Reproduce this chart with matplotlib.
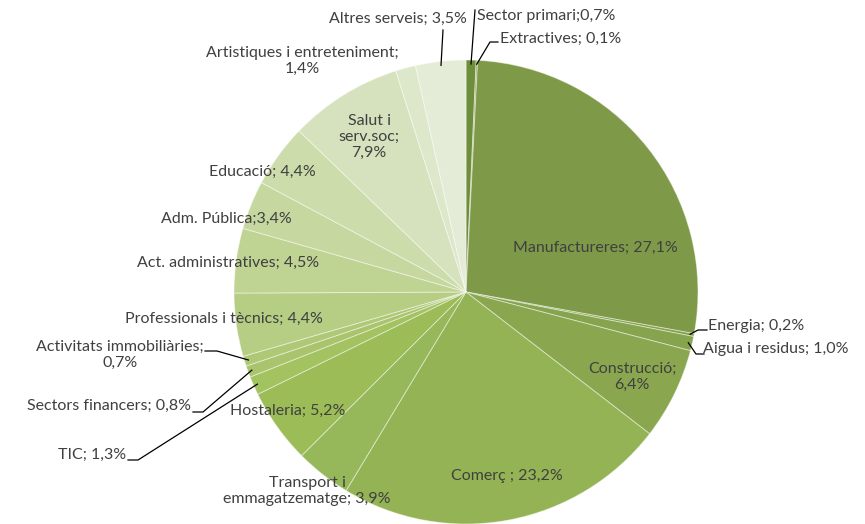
import numpy as np
import matplotlib
matplotlib.use('Agg')
import matplotlib.pyplot as plt

# sector shares (%), clockwise from 12 o'clock
sectors = ['Sector primari', 'Extractives', 'Manufactureres', 'Energia',
           'Aigua i residus', 'Construcció', 'Comerç ', 'Transport i\nemmagatzematge',
           'Hostaleria', 'TIC', 'Sectors financers', 'Activitats immobiliàries',
           'Professionals i tècnics', 'Act. administratives', 'Adm. Pública',
           'Educació', 'Salut i\nserv.soc', 'Artistiques i entreteniment',
           'Altres serveis']
shares = [0.7, 0.1, 27.1, 0.2, 1.0, 6.4, 23.2, 3.9, 5.2, 1.3, 0.8, 0.7,
          4.4, 4.5, 3.4, 4.4, 7.9, 1.4, 3.5]
separators = [';', '; ', '; ', '; ', '; ', ';\n', '; ', '; ', '; ', '; ', '; ',
              ';\n', '; ', '; ', ';', '; ', ';\n', ';\n', '; ']
colors = ['#6f8e3b', '#87a54f', '#7e9a48', '#84a14c', '#86a34e', '#8aa750',
          '#93b355', '#97b85a', '#9bbc57', '#a3c260', '#a9c46c', '#afc876',
          '#b6cd84', '#bfd393', '#c6d89f', '#cddcab', '#d6e2bd', '#dde7c9',
          '#e4ecd7']

W, H = 865, 524
CX, CY, R = 466, 292, 232  # pixel coords (y down)

# label placement in pixels: (x, y, ha)
label_pos = [(477, 16, 'left'), (500, 39, 'left'), (595, 248, 'center'),
             (708, 326, 'left'), (703, 349, 'left'), (632, 377, 'center'),
             (507, 476, 'center'), (307, 491, 'center'), (288, 411, 'center'),
             (126, 455, 'right'), (191, 406, 'right'), (120, 355, 'center'),
             (224, 319, 'center'), (228, 263, 'center'), (226, 219, 'center'),
             (262, 172, 'center'), (369, 137, 'center'), (302, 61, 'center'),
             (398, 19, 'center')]
# leader line bends (pixels) for outside labels
leaders = {0: [(475, 10)], 1: [(490, 42), (498, 42)],
           3: [(698, 330), (707, 330)], 4: [(696, 354), (704, 354)],
           9: [(138, 460), (128, 460)], 10: [(203, 412), (193, 412)],
           11: [(217, 351), (205, 351)], 18: [(443, 30)]}


def fmt(v):
    return f"{v:.1f}".replace('.', ',') + '%'


fig = plt.figure(figsize=(W / 100, H / 100), dpi=100)
ax = fig.add_axes([0, 0, 1, 1])

ax.pie(shares, colors=colors, startangle=90, counterclock=False,
       center=(CX, H - CY), radius=R, normalize=True,
       wedgeprops=dict(edgecolor=(1, 1, 1, 0.45), linewidth=0.7))
ax.set_xlim(0, W)
ax.set_ylim(0, H)
ax.set_aspect('equal')
ax.axis('off')

fracs = np.cumsum(shares) / np.sum(shares)
mids = fracs - np.array(shares) / np.sum(shares) / 2

for i, name in enumerate(sectors):
    x, y, ha = label_pos[i]
    ax.text(x, H - y, name + separators[i] + fmt(shares[i]), ha=ha, va='center',
            fontsize=11.5, color='#404040', family='Lato', linespacing=1.2)
    if i in leaders:
        ang = np.deg2rad(90 - 360 * mids[i])
        pts = [(CX + (R - 4) * np.cos(ang), CY - (R - 4) * np.sin(ang))] + leaders[i]
        xs = [p[0] for p in pts]
        ys = [H - p[1] for p in pts]
        ax.plot(xs, ys, color='black', lw=0.9)

fig.savefig('out.png', dpi=100)
